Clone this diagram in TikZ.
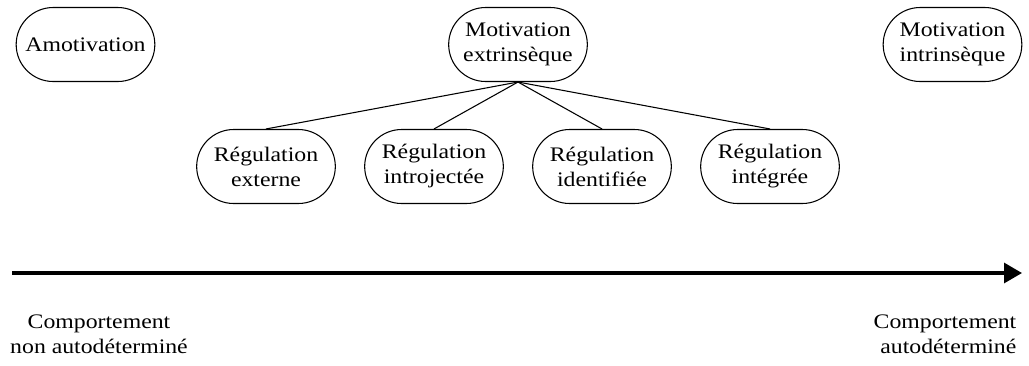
\documentclass[tikz,border=0pt]{standalone}
\usepackage{fontspec}
\setmainfont{Liberation Serif}[FakeStretch=1.15]
\usepackage{xcolor}
\usepackage{tikz}
\usetikzlibrary{shapes.misc}
\usetikzlibrary{trees}
\usetikzlibrary{arrows.meta,positioning}

\begin{document}
\begin{tikzpicture}[%
      x=0.75pt, y=-0.75pt,
      every node/.style={font=\fontsize{15.5}{18.75}\selectfont},
      motiv/.style={draw, line width=0.8pt, rounded rectangle, align=center,
        minimum width=108pt, minimum height=55.5pt, inner sep=2pt},
      level distance=91.5pt, sibling distance=126pt,
      edge from parent/.style={draw, line width=0.8pt},
      edge from parent path={(\tikzparentnode.south) -- (\tikzchildnode.north)}]
  \useasboundingbox (0,0) rectangle (1029,365);
  \node[motiv] (amot) at (85.5,44.5) {Amotivation};
  \node[motiv] (intr) at (952.5,44.5) {Motivation\\intrinsèque};
  \node[motiv] (extr) at (518,44.5) {Motivation\\extrinsèque}
    child { node[motiv] (rext) {Régulation\\externe}}
    child { node[motiv] (rint) {Régulation\\introjectée}}
    child { node[motiv] (rid) {Régulation\\identifiée}}
    child { node[motiv] (rinteg) {Régulation\\intégrée}};
  % continuum
  \coordinate (lo) at (12,273);
  \coordinate (hi) at (1022,273);
  \draw[line width=2.4pt, -{Triangle[length=13.5pt,width=15pt]}] (lo) -- (hi);
  \node[anchor=base, align=center] (nonauto) at (99,353)
    {Comportement\\non autodéterminé};
  \node[anchor=base east, align=right] (auto) at (1021,353)
    {Comportement\\autodéterminé};
\end{tikzpicture}
\end{document}
